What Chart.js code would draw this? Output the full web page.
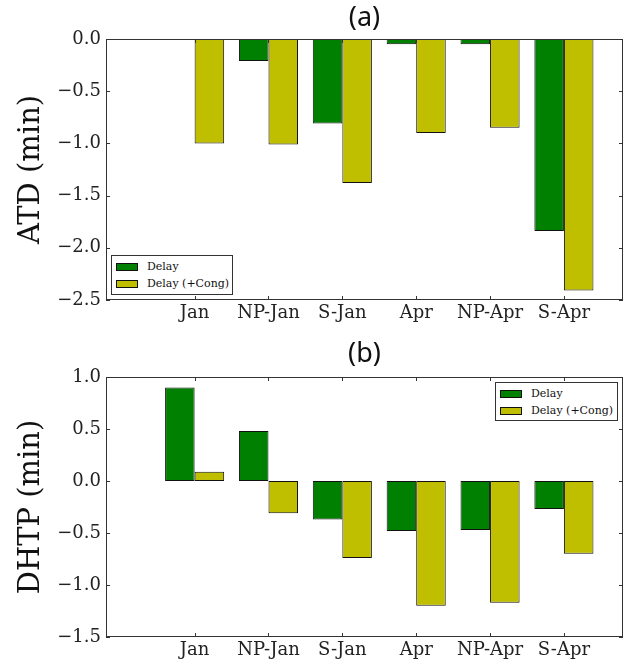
<!DOCTYPE html>
<html>
<head>
<meta charset="utf-8">
<script src="https://cdn.jsdelivr.net/npm/chart.js@4.4.1/dist/chart.umd.min.js"></script>
<style>
  html, body { margin: 0; padding: 0; background: #fff; }
  #wrap { position: relative; width: 638px; height: 665px; }
  canvas { position: absolute; left: 0; }
  .legend { position: absolute; box-sizing: border-box; border: 1px solid #333; background: #fff;
            padding-top: 2px; font: 11px 'DejaVu Serif', serif; color: #111; }
  .legend .row { display: flex; align-items: center; height: 17px; white-space: nowrap; }
  .legend .patch { width: 22px; height: 8px; box-sizing: border-box; border: 1px solid #111;
                   margin-left: 4px; margin-right: 9px; }
</style>
</head>
<body>
<div id="wrap">
  <canvas id="cnv-a" width="638" height="332" style="top:0"></canvas>
  <canvas id="cnv-b" width="638" height="333" style="top:332px"></canvas>
  <div class="legend" id="leg-a" style="left:111px;top:255px;width:122px;height:40px"></div>
  <div class="legend" id="leg-b" style="left:495px;top:382px;width:123px;height:39px"></div>
</div>
<script>
/* two stacked bar panels: ATD and DHTP per scenario */

const CATEGORIES = ['Jan', 'NP-Jan', 'S-Jan', 'Apr', 'NP-Apr', 'S-Apr'];
const SERIES_NAMES = ['Delay', 'Delay (+Cong)'];
const SERIES_COLORS = ['#008000', '#bfbf00'];

const ATD_DELAY = [-0.01, -0.21, -0.81, -0.05, -0.05, -1.84];
const ATD_CONG  = [-1.00, -1.01, -1.38, -0.90, -0.85, -2.41];
const ATD_RANGE = [-2.5, 0.0];

const DHTP_DELAY = [0.90, 0.48, -0.37, -0.48, -0.47, -0.27];
const DHTP_CONG  = [0.09, -0.31, -0.74, -1.20, -1.17, -0.70];
const DHTP_RANGE = [-1.5, 1.0];

const X_RANGE = [-1.2, 5.8];

const SERIF = "'DejaVu Serif', serif";

// axes frame + inward ticks on all four sides, matplotlib classic style
const frameTicksPlugin = {
  id: 'frameTicks',
  afterDraw(chart) {
    const { ctx, chartArea: a, scales } = chart;
    const len = 4;
    ctx.save();
    ctx.strokeStyle = '#333';
    ctx.lineWidth = 1;
    ctx.beginPath();
    scales.x.ticks.forEach(t => {
      const px = Math.round(scales.x.getPixelForValue(t.value)) + 0.5;
      ctx.moveTo(px, a.bottom); ctx.lineTo(px, a.bottom - len);
      ctx.moveTo(px, a.top); ctx.lineTo(px, a.top + len);
    });
    scales.y.ticks.forEach(t => {
      const py = Math.round(scales.y.getPixelForValue(t.value)) + 0.5;
      ctx.moveTo(a.left, py); ctx.lineTo(a.left + len, py);
      ctx.moveTo(a.right, py); ctx.lineTo(a.right - len, py);
    });
    ctx.stroke();
    ctx.strokeRect(Math.round(a.left) + 0.5, Math.round(a.top) + 0.5,
                   Math.round(a.width) - 1, Math.round(a.height) - 1);
    ctx.restore();
  },
};

function fmtTick(v) {
  const s = Math.abs(v).toFixed(1);
  return (v < -1e-9 ? '\u2212' : '') + s;
}

function drawPanel(canvasId, title, yLabel, delay, cong, range, xAxisH, titlePad) {
  const datasets = [delay, cong].map((vals, k) => ({
    label: SERIES_NAMES[k],
    data: vals.map((v, i) => ({ x: i, y: v })),
    backgroundColor: SERIES_COLORS[k],
    borderColor: '#111',
    borderWidth: 1,
    borderSkipped: false,
    barPercentage: 1.0,
    categoryPercentage: 0.8,
  }));

  new Chart(document.getElementById(canvasId), {
    type: 'bar',
    data: { datasets },
    options: {
      responsive: false,
      animation: false,
      layout: { padding: { left: 0, right: 15, top: 0, bottom: 0 } },
      plugins: {
        legend: { display: false },
        tooltip: { enabled: false },
        title: {
          display: true, text: title, fullSize: false,
          color: '#111',
          font: { family: "'Noto Sans', sans-serif", size: 27, weight: 'normal' },
          padding: titlePad,
        },
      },
      scales: {
        x: {
          type: 'linear', min: X_RANGE[0], max: X_RANGE[1], offset: false,
          grid: { display: false, drawTicks: false }, border: { display: false },
          afterBuildTicks: s => { s.ticks = CATEGORIES.map((_, i) => ({ value: i })); },
          afterFit: s => { s.height = xAxisH; },
          ticks: {
            autoSkip: false, maxRotation: 0, padding: 3, color: '#222',
            font: { family: SERIF, size: 18 },
            callback: v => CATEGORIES[v],
          },
        },
        y: {
          min: range[0], max: range[1],
          grid: { display: false, drawTicks: false }, border: { display: false },
          afterFit: s => { s.width = 106; },
          title: {
            display: true, text: yLabel, color: '#111',
            font: { family: SERIF, size: 29 },
            padding: { top: 14, bottom: 0 },
          },
          ticks: {
            stepSize: 0.5, padding: 5, color: '#222',
            font: { family: SERIF, size: 18 },
            callback: v => fmtTick(v),
          },
        },
      },
    },
    plugins: [frameTicksPlugin],
  });
}

function buildLegend(id) {
  const host = document.getElementById(id);
  host.innerHTML = SERIES_NAMES.map((name, k) =>
    `<div class="row"><span class="patch" style="background:${SERIES_COLORS[k]}"></span><span>${name}</span></div>`
  ).join('');
}

drawPanel('cnv-a', '(a)', 'ATD (min)', ATD_DELAY, ATD_CONG, ATD_RANGE, 32, { top: 2, bottom: 4.6 });
drawPanel('cnv-b', '(b)', 'DHTP (min)', DHTP_DELAY, DHTP_CONG, DHTP_RANGE, 28, { top: 6, bottom: 6.6 });
buildLegend('leg-a');
buildLegend('leg-b');
</script>
</body>
</html>
